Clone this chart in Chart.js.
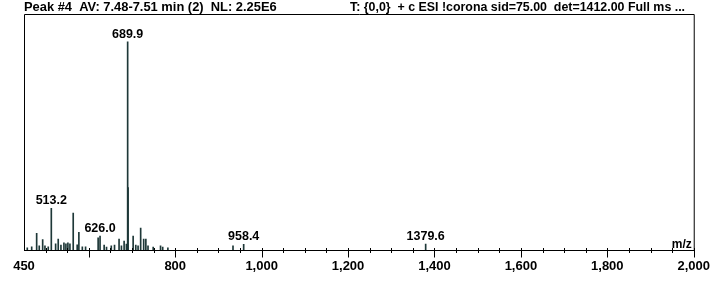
<!DOCTYPE html>
<html>
<head>
<meta charset="utf-8">
<script src="https://cdn.jsdelivr.net/npm/chart.js@4.4.1/dist/chart.umd.min.js"></script>
<style>
  html, body { margin: 0; padding: 0; background: #ffffff; }
  canvas { display: block; }
</style>
</head>
<body>
<canvas id="spectrum" width="719" height="281"></canvas>
<script>
// ======================================================
// DATA (relative abundance %)
// ======================================================

const peakMz = [
  457.6, 467.8, 479.3, 485.3, 493.2, 498.5, 506.1, 513.2, 523.2, 529.2,
  535.5, 542.4, 547.0, 551.6, 556.3, 563.9, 573.1, 577.0, 585.0, 592.5,
  621.6, 626.0, 635.5, 641.0, 652.0, 659.5, 670.0, 675.5, 681.7, 687.0,
  689.9, 690.9, 702.6, 708.7, 714.0, 720.0, 727.0, 732.0, 737.0, 749.0,
  766.0, 771.0, 783.0, 933.7, 958.4, 1379.6
];

const peakIntensity = [
  1.0, 1.5, 8.0, 2.0, 5.0, 2.0, 1.5, 20.0, 3.0, 5.3,
  2.4, 3.4, 3.0, 3.4, 3.0, 17.8, 2.5, 8.5, 1.5, 1.5,
  5.8, 6.7, 2.4, 1.4, 2.0, 2.4, 5.3, 2.0, 4.3, 2.9,
  100.0, 30.0, 6.7, 2.4, 2.0, 10.5, 5.3, 5.3, 2.0, 1.4,
  2.0, 1.4, 1.0, 2.0, 2.7, 2.9
];

// peaks that carry an m/z label
const labeledPeaks = [689.9, 513.2, 626.0, 958.4, 1379.6];

// x axis labels (450 is the range start)
const tickLabels = [450, 800, 1000, 1200, 1400, 1600, 1800, 2000];

const headerLeft = "Peak #4  AV: 7.48-7.51 min (2)  NL: 2.25E6";
const headerRight = "T: {0,0}  + c ESI !corona sid=75.00  det=1412.00 Full ms ...";

const X_MIN = 450;
const X_MAX = 2000;
const Y_MAX = 113.4;

// ======================================================
// PLUGINS
// ======================================================

const BOLD = "'Liberation Sans', Arial, sans-serif";

// box around the plot, minor / major ticks, m/z caption and header
const framePlugin = {
  id: "frame",
  afterDraw(chart) {
    const { ctx, chartArea } = chart;
    const xScale = chart.scales.x;
    const base = chartArea.bottom + 0.5;

    ctx.save();
    ctx.strokeStyle = "#000000";
    ctx.lineWidth = 1;

    ctx.beginPath();
    ctx.moveTo(chartArea.left + 0.5, base);
    ctx.lineTo(chartArea.left + 0.5, chartArea.top + 0.5);
    ctx.lineTo(chartArea.right + 0.5, chartArea.top + 0.5);
    ctx.lineTo(chartArea.right + 0.5, base);
    ctx.stroke();

    // ticks every 50, longer ones every 200
    ctx.beginPath();
    for (let v = 500; v <= X_MAX; v += 50) {
      const px = Math.round(xScale.getPixelForValue(v)) + 0.5;
      const major = v % 200 === 0;
      ctx.moveTo(px, base - 2.5);
      ctx.lineTo(px, base + (major ? 7 : 2.5));
    }
    ctx.stroke();

    ctx.fillStyle = "#000000";
    ctx.font = "bold 12px " + BOLD;
    ctx.textAlign = "right";
    ctx.textBaseline = "alphabetic";
    ctx.fillText("m/z", chartArea.right - 2, base - 3);

    ctx.textAlign = "left";
    ctx.font = "bold 12.9px " + BOLD;
    ctx.fillText(headerLeft, 24, 10.5);
    ctx.font = "bold 12.4px " + BOLD;
    ctx.fillText(headerRight, 350, 10.5);
    ctx.restore();
  },
};

// m/z value above selected peaks
const peakLabelPlugin = {
  id: "peakLabels",
  afterDatasetsDraw(chart) {
    const { ctx } = chart;
    const xScale = chart.scales.x;
    const yScale = chart.scales.y;

    ctx.save();
    ctx.fillStyle = "#000000";
    ctx.font = "bold 12.5px " + BOLD;
    ctx.textAlign = "center";
    ctx.textBaseline = "alphabetic";

    labeledPeaks.forEach((mz) => {
      const index = peakMz.indexOf(mz);
      const px = xScale.getPixelForValue(mz);
      const py = yScale.getPixelForValue(peakIntensity[index]);
      ctx.fillText(mz.toFixed(1), px, py - 4);
    });
    ctx.restore();
  },
};

// ======================================================
// CHART
// ======================================================

const ctx = document.getElementById("spectrum").getContext("2d");

new Chart(ctx, {
  type: "bar",
  data: {
    datasets: [
      {
        data: peakMz.map((mz, i) => ({ x: mz, y: peakIntensity[i] })),
        backgroundColor: "#1e3838",
        borderWidth: 0,
        barThickness: 1,
      },
    ],
  },
  options: {
    responsive: false,
    animation: false,
    layout: {
      padding: { left: 24, right: 24, top: 14, bottom: 0 },
    },
    plugins: {
      legend: { display: false },
      tooltip: { enabled: false },
    },
    scales: {
      x: {
        type: "linear",
        min: X_MIN,
        max: X_MAX,
        offset: false,
        grid: { display: false, drawTicks: false },
        border: { display: true, color: "#000000", width: 1 },
        afterBuildTicks(scale) {
          scale.ticks = tickLabels.map((v) => ({ value: v }));
        },
        afterFit(scale) {
          scale.height = 31;
        },
        ticks: {
          color: "#000000",
          padding: 9,
          maxRotation: 0,
          autoSkip: false,
          font: { family: BOLD, size: 13, weight: "bold" },
          callback: (value) => value.toLocaleString("en-US"),
        },
      },
      y: {
        display: false,
        min: 0,
        max: Y_MAX,
      },
    },
  },
  plugins: [framePlugin, peakLabelPlugin],
});
</script>
</body>
</html>
